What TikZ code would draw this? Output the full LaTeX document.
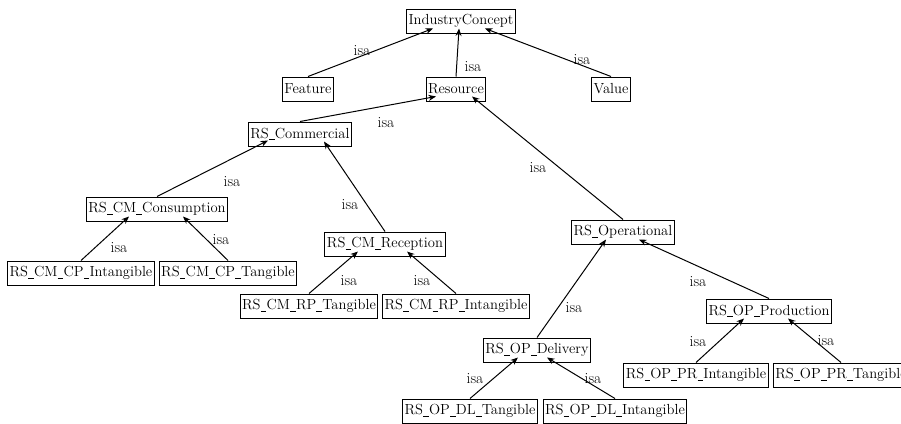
\documentclass[tikz,border=0pt]{standalone}
\usetikzlibrary{arrows.meta}
% a compact underscore for the concept names
\newcommand\usc{\kern0.2pt\rule[-1.9pt]{5.6pt}{0.6pt}\kern0.2pt}
\begin{document}
\begin{tikzpicture}[x=1pt,y=-1pt,
  concept/.style={draw, line width=1pt, inner xsep=2pt, inner ysep=0pt,
    minimum height=24pt, font=\fontsize{14.6}{17}\selectfont},
  isalabel/.style={inner sep=0pt, font=\fontsize{15.5}{17}\selectfont},
  isa/.style={line width=1pt, -{Stealth[length=7.5pt,width=6pt]}}]
\useasboundingbox (0,0) rectangle (901,423);
\fill[white] (0,0) rectangle (901,423);

% concept hierarchy
\node[concept] (ic)   at (461,21)  {IndustryConcept};
\node[concept] (feat) at (308,89)  {Feature};
\node[concept] (res)  at (456,89)  {Resource};
\node[concept] (val)  at (611,89)  {Value};
\node[concept] (com)  at (300,134) {RS\usc Commercial};
\node[concept] (cons) at (157,209) {RS\usc CM\usc Consumption};
\node[concept] (cpi)  at (81,273)  {RS\usc CM\usc CP\usc Intangible};
\node[concept] (cpt)  at (228,273) {RS\usc CM\usc CP\usc Tangible};
\node[concept] (rec)  at (385,244) {RS\usc CM\usc Reception};
\node[concept] (rpt)  at (309,306) {RS\usc CM\usc RP\usc Tangible};
\node[concept] (rpi)  at (456,306) {RS\usc CM\usc RP\usc Intangible};
\node[concept] (op)   at (623,232) {RS\usc Operational};
\node[concept] (prod) at (769,311) {RS\usc OP\usc Production};
\node[concept] (pri)  at (696,375) {RS\usc OP\usc PR\usc Intangible};
\node[concept] (prt)  at (841,375) {RS\usc OP\usc PR\usc Tangible};
\node[concept] (del)  at (537,350) {RS\usc OP\usc Delivery};
\node[concept] (dlt)  at (470,411) {RS\usc OP\usc DL\usc Tangible};
\node[concept] (dli)  at (615,411) {RS\usc OP\usc DL\usc Intangible};

% isa links: child top -> just under the parent
\draw[isa] (feat.north) -- ([xshift=-28,yshift=5]ic.south);
\draw[isa] (res.north)  -- ([xshift=-2,yshift=5]ic.south);
\draw[isa] (val.north)  -- ([xshift=24,yshift=5]ic.south);
\draw[isa] (com.north)  -- ([xshift=-20,yshift=5]res.south);
\draw[isa] (op.north)   -- ([xshift=16,yshift=5]res.south);
\draw[isa] (cons.north) -- ([xshift=-32,yshift=6]com.south);
\draw[isa] (rec.north)  -- ([xshift=24,yshift=5]com.south);
\draw[isa] (cpi.north)  -- ([xshift=-28,yshift=5]cons.south);
\draw[isa] (cpt.north)  -- ([xshift=26,yshift=5]cons.south);
\draw[isa] (rpt.north)  -- ([xshift=-27,yshift=5]rec.south);
\draw[isa] (rpi.north)  -- ([xshift=22,yshift=5]rec.south);
\draw[isa] (del.north)  -- ([xshift=-17,yshift=5]op.south);
\draw[isa] (prod.north) -- ([xshift=16,yshift=5]op.south);
\draw[isa] (pri.north)  -- ([xshift=-25,yshift=5]prod.south);
\draw[isa] (prt.north)  -- ([xshift=19,yshift=5]prod.south);
\draw[isa] (dlt.north)  -- ([xshift=-19,yshift=5]del.south);
\draw[isa] (dli.north)  -- ([xshift=10,yshift=5]del.south);

% link labels
\node[isalabel] (l1)  at (362,51)  {isa};
\node[isalabel] (l2)  at (473,67)  {isa};
\node[isalabel] (l3)  at (582,60)  {isa};
\node[isalabel] (l4)  at (386,123) {isa};
\node[isalabel] (l5)  at (538,168) {isa};
\node[isalabel] (l6)  at (232,182) {isa};
\node[isalabel] (l7)  at (350,205) {isa};
\node[isalabel] (l8)  at (119,248) {isa};
\node[isalabel] (l9)  at (221,240) {isa};
\node[isalabel] (l10) at (349,281) {isa};
\node[isalabel] (l11) at (422,281) {isa};
\node[isalabel] (l12) at (574,308) {isa};
\node[isalabel] (l13) at (698,282) {isa};
\node[isalabel] (l14) at (698,342) {isa};
\node[isalabel] (l15) at (826,341) {isa};
\node[isalabel] (l16) at (475,379) {isa};
\node[isalabel] (l17) at (593,379) {isa};
\end{tikzpicture}
\end{document}
